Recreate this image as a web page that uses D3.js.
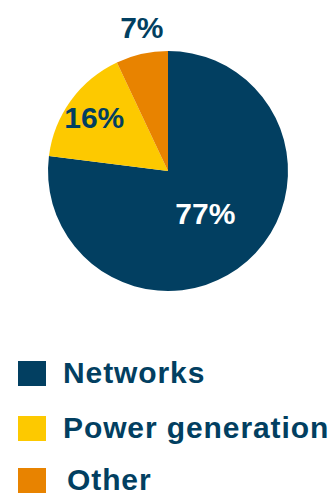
<!DOCTYPE html>
<html>
<head>
<meta charset="utf-8">
<script src="https://cdn.jsdelivr.net/npm/d3@7"></script>
<style>
  html, body { margin: 0; padding: 0; background: #fff; }
  svg { display: block; }
  text { font-family: "Liberation Sans", Arial, sans-serif; font-weight: bold; }
</style>
</head>
<body>
<svg id="chart" width="331" height="493"></svg>
<script>
// Share of investment by segment (%)
const categories = ["Networks", "Power generation", "Other"];
const values = [77, 16, 7];
const labels = ["77%", "16%", "7%"];
const colors = ["#023f61", "#fdc900", "#e88300"];
const labelColors = ["#ffffff", "#023f61", "#023f61"];

const svg = d3.select("#chart");
const cx = 168, cy = 171, r = 120;

const pie = d3.pie().sort(null).value(d => d.value);
const arc = d3.arc().innerRadius(0).outerRadius(r);

const data = categories.map((c, i) => ({ name: c, value: values[i], i }));
const arcs = pie(data);

const g = svg.append("g").attr("transform", `translate(${cx},${cy})`);

g.selectAll("path")
  .data(arcs)
  .join("path")
  .attr("d", arc)
  .attr("fill", d => colors[d.data.i]);

// Label placement: radius factor and small angular nudge per slice
const labelRadius = [0.47, 0.76, 1.22];
const labelNudge = [0, 0, 0.04];
g.selectAll("text.pct")
  .data(arcs)
  .join("text")
  .attr("class", "pct")
  .attr("transform", d => {
    const a = (d.startAngle + d.endAngle) / 2 + labelNudge[d.data.i];
    const rr = r * labelRadius[d.data.i];
    return `translate(${rr * Math.sin(a)},${-rr * Math.cos(a)})`;
  })
  .attr("text-anchor", "middle")
  .attr("dy", "0.36em")
  .attr("font-size", 30)
  .attr("fill", d => labelColors[d.data.i])
  .text(d => labels[d.data.i]);

// Legend
const legendY = [361, 416, 468];
const legendX = [63, 63, 67];
const leg = svg.append("g");
categories.forEach((c, i) => {
  leg.append("rect")
    .attr("x", 18).attr("y", legendY[i])
    .attr("width", 28).attr("height", 25)
    .attr("fill", colors[i]);
  leg.append("text")
    .attr("x", legendX[i]).attr("y", legendY[i] + 22)
    .attr("font-size", 30)
    .attr("letter-spacing", 0.9)
    .attr("fill", "#023f61")
    .text(c);
});
</script>
</body>
</html>
